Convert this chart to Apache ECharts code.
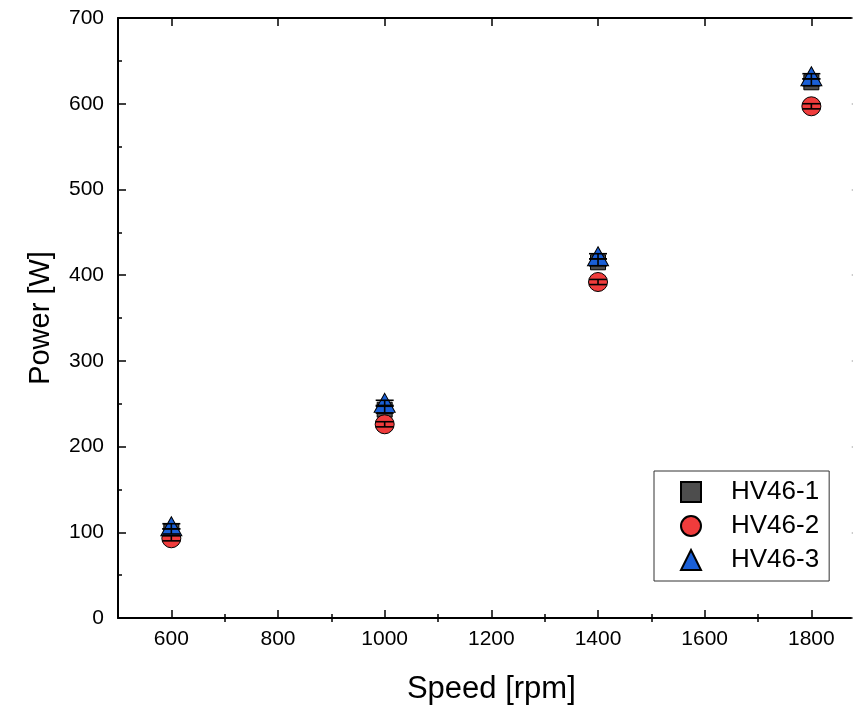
<!DOCTYPE html>
<html><head><meta charset="utf-8">
<script src="https://cdn.jsdelivr.net/npm/echarts@6/dist/echarts.min.js"></script>
<style>html,body{margin:0;padding:0;background:#fff;overflow:hidden}#c{width:853px;height:706px}</style>
</head><body><div id="c"></div>
<script>
const speed = [600, 1000, 1400, 1800];
const hv1 = [101, 243, 415, 625];
const hv2 = [93, 226, 392, 597];
const hv3 = [107, 251, 422, 632];
const err1 = [3, 4, 4, 4];
const err2 = [3, 3, 3, 3];
const err3 = [3, 3, 3, 3];
const seriesNames = ['HV46-1', 'HV46-2', 'HV46-3'];
const xMajorTicks = [600, 800, 1000, 1200, 1400, 1600, 1800];
const xMinorTicks = [700, 900, 1100, 1300, 1500, 1700];

const FONT = 'Arial, "Liberation Sans", sans-serif';
const chart = echarts.init(document.getElementById('c'), null, {renderer: 'canvas'});

function pts(vals) { return speed.map((s, i) => [s, vals[i]]); }
function errData(vals, errs) { return speed.map((s, i) => [s, vals[i] - errs[i], vals[i] + errs[i]]); }
function errRender(params, api) {
  const x = api.value(0), lo = api.value(1), hi = api.value(2);
  const a = api.coord([x, hi]), b = api.coord([x, lo]);
  const h = 9;
  const style = {stroke: '#000', lineWidth: 1.6, fill: null};
  return {type: 'group', children: [
    {type: 'line', shape: {x1: a[0], y1: a[1], x2: b[0], y2: b[1]}, style: style},
    {type: 'line', shape: {x1: a[0] - h, y1: a[1], x2: a[0] + h, y2: a[1]}, style: style},
    {type: 'line', shape: {x1: b[0] - h, y1: b[1], x2: b[0] + h, y2: b[1]}, style: style}
  ]};
}

const xMin = 500, xMax = 1900;
const baseX = {
  type: 'value', min: xMin, max: xMax, gridIndex: 0,
  splitLine: {show: false}
};
const option = {
  backgroundColor: '#fff',
  animation: false,
  grid: [{left: 118, top: 18, width: 746.7, bottom: 88, outerBoundsMode: 'none', containLabel: false}],
  xAxis: [
    Object.assign({}, baseX, {
      position: 'bottom',
      name: 'Speed [rpm]', nameLocation: 'middle', nameGap: 56,
      nameTextStyle: {fontFamily: FONT, fontSize: 31, color: '#000'},
      axisLine: {show: true, onZero: false, lineStyle: {color: '#000', width: 2}},
      axisTick: {show: true, inside: true, length: 8, customValues: xMajorTicks, lineStyle: {color: '#000', width: 1.5}},
      axisLabel: {show: true, customValues: xMajorTicks, margin: 11, fontFamily: FONT, fontSize: 21, color: '#000',
                  formatter: v => String(v)}
    }),
    Object.assign({}, baseX, {
      position: 'bottom',
      axisLine: {show: false},
      axisTick: {show: true, inside: true, length: 4, customValues: xMinorTicks, lineStyle: {color: '#000', width: 1.5}},
      axisLabel: {show: false}
    }),
    Object.assign({}, baseX, {
      position: 'top',
      axisLine: {show: true, onZero: false, lineStyle: {color: '#000', width: 2}},
      axisTick: {show: true, inside: true, length: 8, customValues: xMajorTicks, lineStyle: {color: '#000', width: 1.5}},
      axisLabel: {show: false}
    }),
    Object.assign({}, baseX, {
      position: 'top',
      axisLine: {show: false},
      axisTick: {show: true, inside: true, length: 4, customValues: xMinorTicks, lineStyle: {color: '#000', width: 1.5}},
      axisLabel: {show: false}
    })
  ],
  yAxis: [
    {
      type: 'value', min: 0, max: 700, interval: 100, position: 'left',
      name: 'Power [W]', nameLocation: 'middle', nameGap: 63,
      nameTextStyle: {fontFamily: FONT, fontSize: 29, color: '#000'},
      axisLine: {show: true, onZero: false, lineStyle: {color: '#000', width: 2}},
      axisTick: {show: true, inside: true, length: 8, lineStyle: {color: '#000', width: 1.5}},
      minorTick: {show: true, splitNumber: 2, length: 4, lineStyle: {color: '#000', width: 1.5}},
      axisLabel: {margin: 14, fontFamily: FONT, fontSize: 21, color: '#000', formatter: v => String(v)},
      splitLine: {show: false}
    },
    {
      type: 'value', min: 0, max: 700, interval: 100, position: 'right',
      axisLine: {show: false, onZero: false, lineStyle: {color: '#000', width: 2}},
      axisTick: {show: true, inside: true, length: 13, lineStyle: {color: '#bbb', width: 1.5}},
      minorTick: {show: false},
      axisLabel: {show: false},
      splitLine: {show: false}
    }
  ],
  legend: {
    data: seriesNames,
    orient: 'vertical',
    left: 654, top: 471,
    padding: [7, 10, 7, 26],
    itemGap: 6,
    itemWidth: 20, itemHeight: 20,
    borderColor: '#333', borderWidth: 1,
    borderRadius: 0,
    backgroundColor: '#fff',
    textStyle: {fontFamily: FONT, fontSize: 26, color: '#000', lineHeight: 28, padding: [0, 0, 0, 25]}
  },
  series: [
    {name: seriesNames[0], type: 'scatter', data: pts(hv1), symbol: 'rect', symbolSize: 15,
     itemStyle: {color: '#4d4d4d', borderColor: '#000', borderWidth: 1, opacity: 1}, z: 2},
    {name: seriesNames[1], type: 'scatter', data: pts(hv2), symbol: 'circle', symbolSize: 19,
     itemStyle: {color: '#f03c3c', borderColor: '#000', borderWidth: 1, opacity: 1}, z: 2},
    {name: seriesNames[2], type: 'scatter', data: pts(hv3), symbol: 'triangle', symbolSize: [21, 19],
     itemStyle: {color: '#1a5fd6', borderColor: '#000', borderWidth: 1, opacity: 1}, z: 2},
    {type: 'custom', data: errData(hv1, err1), renderItem: errRender, encode: {x: 0, y: [1, 2]}, z: 3, silent: true},
    {type: 'custom', data: errData(hv2, err2), renderItem: errRender, encode: {x: 0, y: [1, 2]}, z: 3, silent: true},
    {type: 'custom', data: errData(hv3, err3), renderItem: errRender, encode: {x: 0, y: [1, 2]}, z: 3, silent: true}
  ]
};
chart.setOption(option);
</script></body></html>
